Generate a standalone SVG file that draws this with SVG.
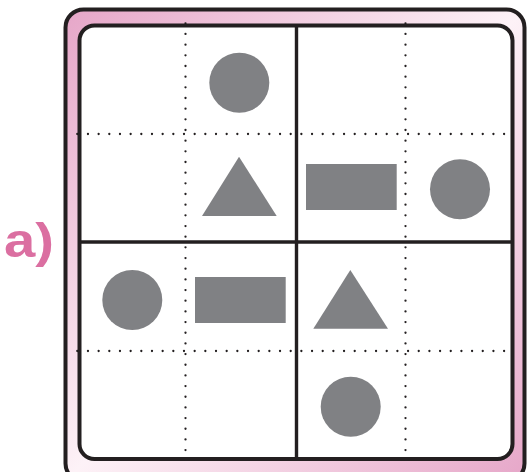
<svg xmlns="http://www.w3.org/2000/svg" width="527" height="472" viewBox="0 0 527 472">
  <defs>
    <linearGradient id="pinkFrame" x1="0" y1="0" x2="1" y2="1">
      <stop offset="0" stop-color="#e6a6c8"/>
      <stop offset="0.5" stop-color="#fdf2f7"/>
      <stop offset="1" stop-color="#e6a6c8"/>
    </linearGradient>
  </defs>
  <style>
    .frame { stroke: #231f20; stroke-width: 4; }
    .solid { stroke: #231f20; stroke-width: 3.4; fill: none; }
    .dots { stroke: #231f20; stroke-width: 2.3; stroke-linecap: round; stroke-dasharray: 0 10.67; fill: none; }
    .shape { fill: #808184; }
    .label { font-family: "Liberation Sans", "DejaVu Sans", sans-serif; font-weight: bold; fill: #db6fa1; }
  </style>

  <g id="label-a">
    <text class="label" x="4" y="257" font-size="48" textLength="50" lengthAdjust="spacingAndGlyphs">a)</text>
  </g>

  <g id="frame">
    <rect class="frame" x="65.5" y="9.5" width="459" height="472" rx="18" fill="url(#pinkFrame)"/>
    <rect class="frame" x="79.5" y="25.5" width="433" height="433.5" rx="15" fill="#ffffff"/>
  </g>

  <g id="grid">
    <line class="dots" x1="185.5" y1="23.3" x2="185.5" y2="459"/>
    <line class="dots" x1="405.5" y1="23.3" x2="405.5" y2="459"/>
    <line class="dots" x1="77.3" y1="134" x2="513" y2="134"/>
    <line class="dots" x1="77.3" y1="351" x2="513" y2="351"/>
    <line class="solid" x1="296.5" y1="25.5" x2="296.5" y2="459"/>
    <line class="solid" x1="79.5" y1="242" x2="512.5" y2="242"/>
  </g>

  <g id="circle-1"><circle class="shape" cx="239.3" cy="82.7" r="30"/></g>
  <g id="triangle-1"><polygon class="shape" points="239,156.7 276.7,216 202,216"/></g>
  <g id="rect-1"><rect class="shape" x="306" y="164" width="90.7" height="46"/></g>
  <g id="circle-2"><circle class="shape" cx="460" cy="189.3" r="30"/></g>
  <g id="circle-3"><circle class="shape" cx="132.3" cy="300" r="30"/></g>
  <g id="rect-2"><rect class="shape" x="195" y="277" width="90.7" height="46"/></g>
  <g id="triangle-2"><polygon class="shape" points="350.3,270 388,328.7 313.3,328.7"/></g>
  <g id="circle-4"><circle class="shape" cx="350.7" cy="406.7" r="30"/></g>
</svg>
